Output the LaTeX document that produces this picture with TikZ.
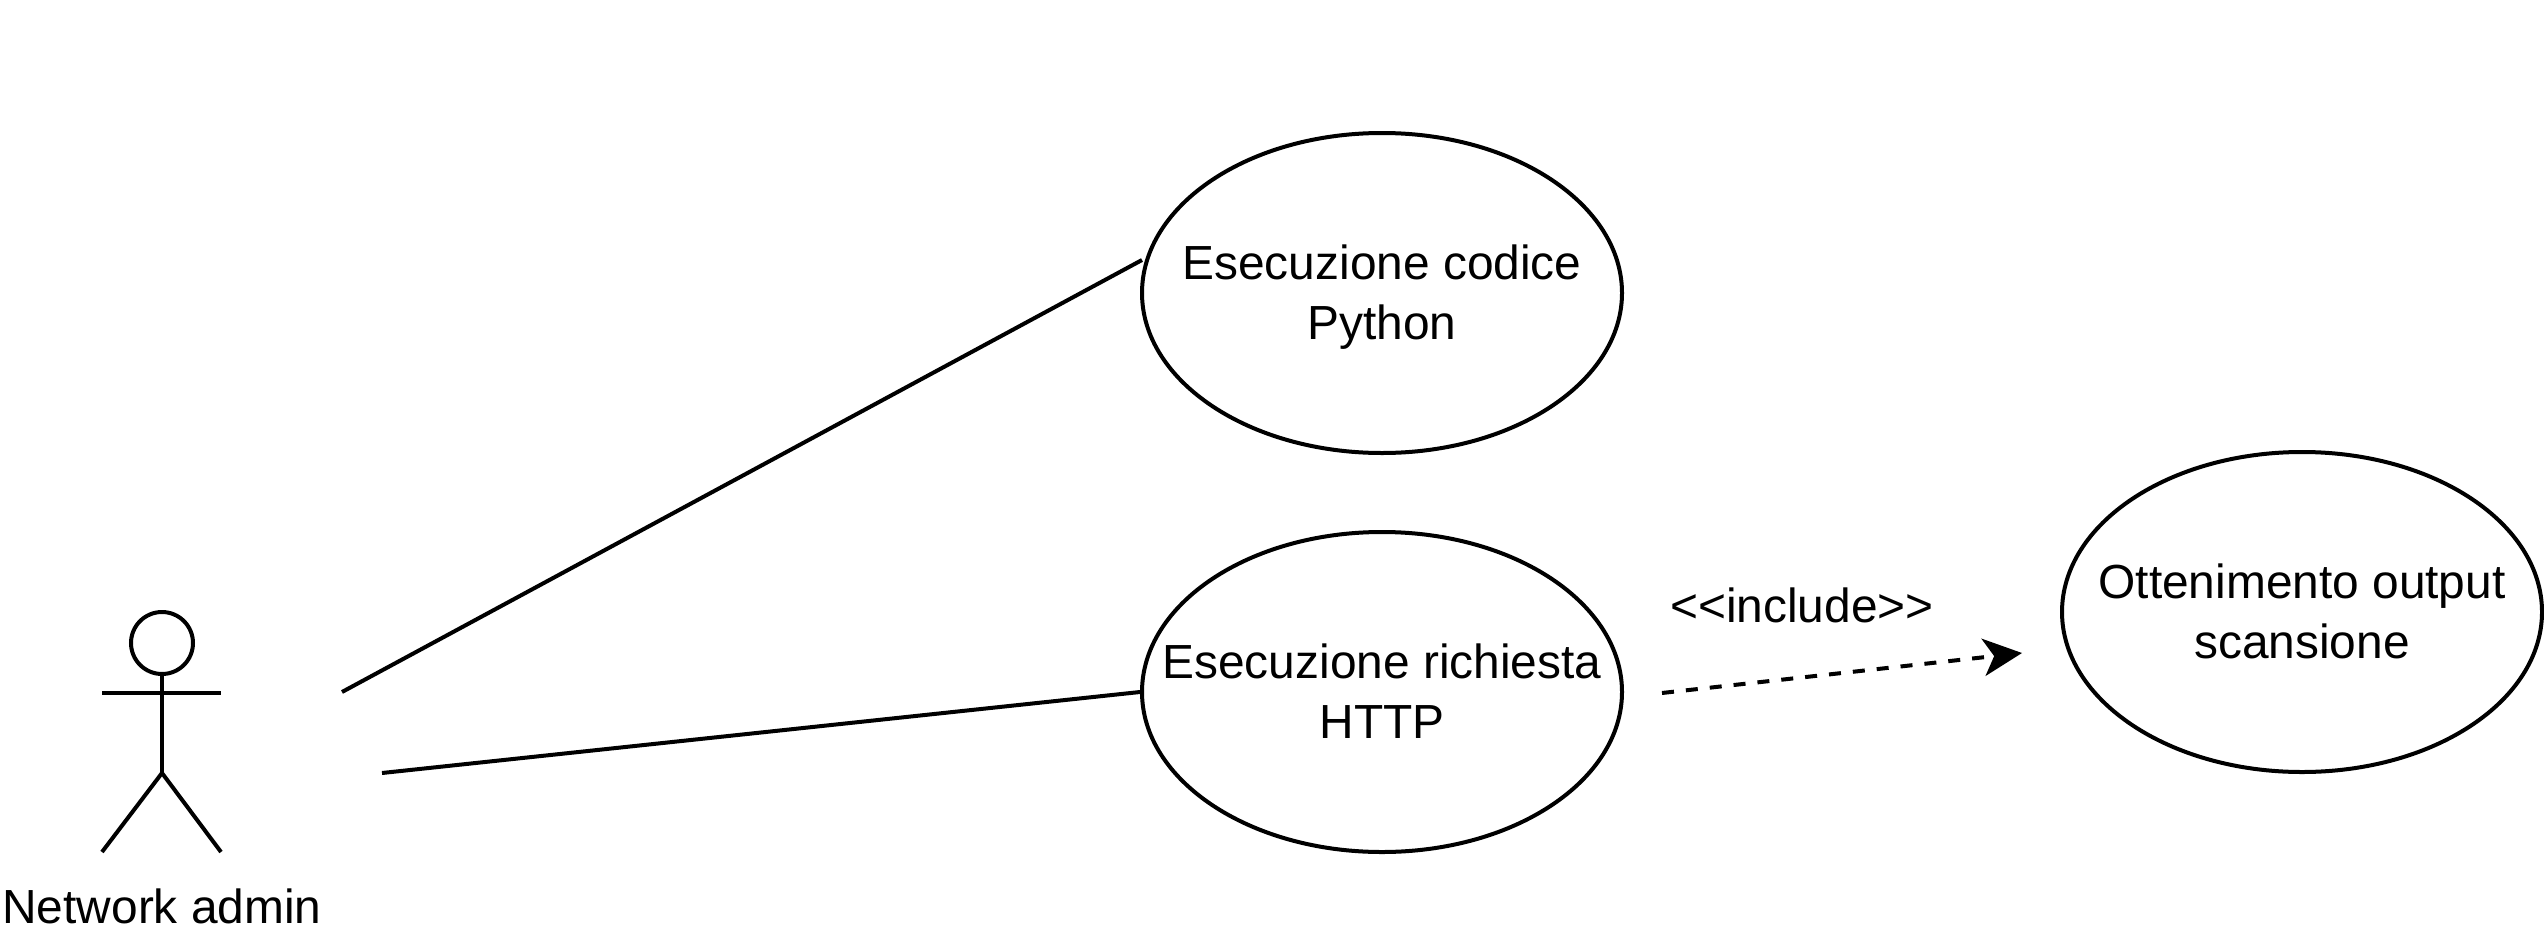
\documentclass[tikz,border=0pt]{standalone}
\usepackage{fontspec}
\setmainfont{Liberation Sans}
\usetikzlibrary{shapes.geometric,arrows.meta,calc}
\tikzset{
  txt/.style={inner sep=0pt,align=center,yshift=-3pt,font=\fontsize{35.9pt}{44.7pt}\selectfont},
  usecase/.style={draw=black,ellipse,line width=3pt,inner sep=0pt,minimum width=360pt,minimum height=240pt},
  wire/.style={draw=black,line width=3pt},
  dep/.style={wire,dash pattern=on 9pt off 9pt,-{Stealth[length=29pt,width=28pt,inset=8pt]}},
  lbl/.style={inner sep=0pt,anchor=base,font=\fontsize{35.9pt}{44.7pt}\selectfont},
  head/.style={draw=black,circle,line width=3pt,inner sep=0pt,minimum size=46.5pt}
}
\begin{document}
\begin{tikzpicture}[x=0.75pt,y=-0.75pt]
\useasboundingbox (0,0) rectangle (2544,935);
\node[usecase,label={[txt]center:Esecuzione codice\\Python\vphantom{y}}] (e1) at (1382,293) {};
\node[usecase,label={[txt]center:Esecuzione richiesta\\HTTP\vphantom{y}}] (e2) at (1382,692) {};
\node[usecase,label={[txt]center:Ottenimento output\\scansione\vphantom{y}}] (e3) at (2302,612) {};
\node[head] (head) at (162,643) {};
\coordinate (hip) at (162,773);
\coordinate (armL) at (102,693);
\coordinate (armR) at (221,693);
\coordinate (footL) at (102,852);
\coordinate (footR) at (221,852);
\draw[wire] (head.south) -- (hip);
\draw[wire] (armL) -- (armR);
\draw[wire] (footL) -- (hip) -- (footR);
\node[lbl] (actor) at (162,923) {Network admin};
\node[lbl] (inc) at (1802,622) {<{}<include>{}>};
\coordinate (a1) at (342,692);
\coordinate (a2) at (382,773);
\coordinate (e1in) at (1142,260);
\coordinate (depstart) at (1662,693);
\coordinate (depend) at (2022,653);
\draw[wire] (a1) -- (e1in);
\draw[wire] (a2) -- (e2.west);
\draw[dep] (depstart) -- (depend);
\end{tikzpicture}
\end{document}
